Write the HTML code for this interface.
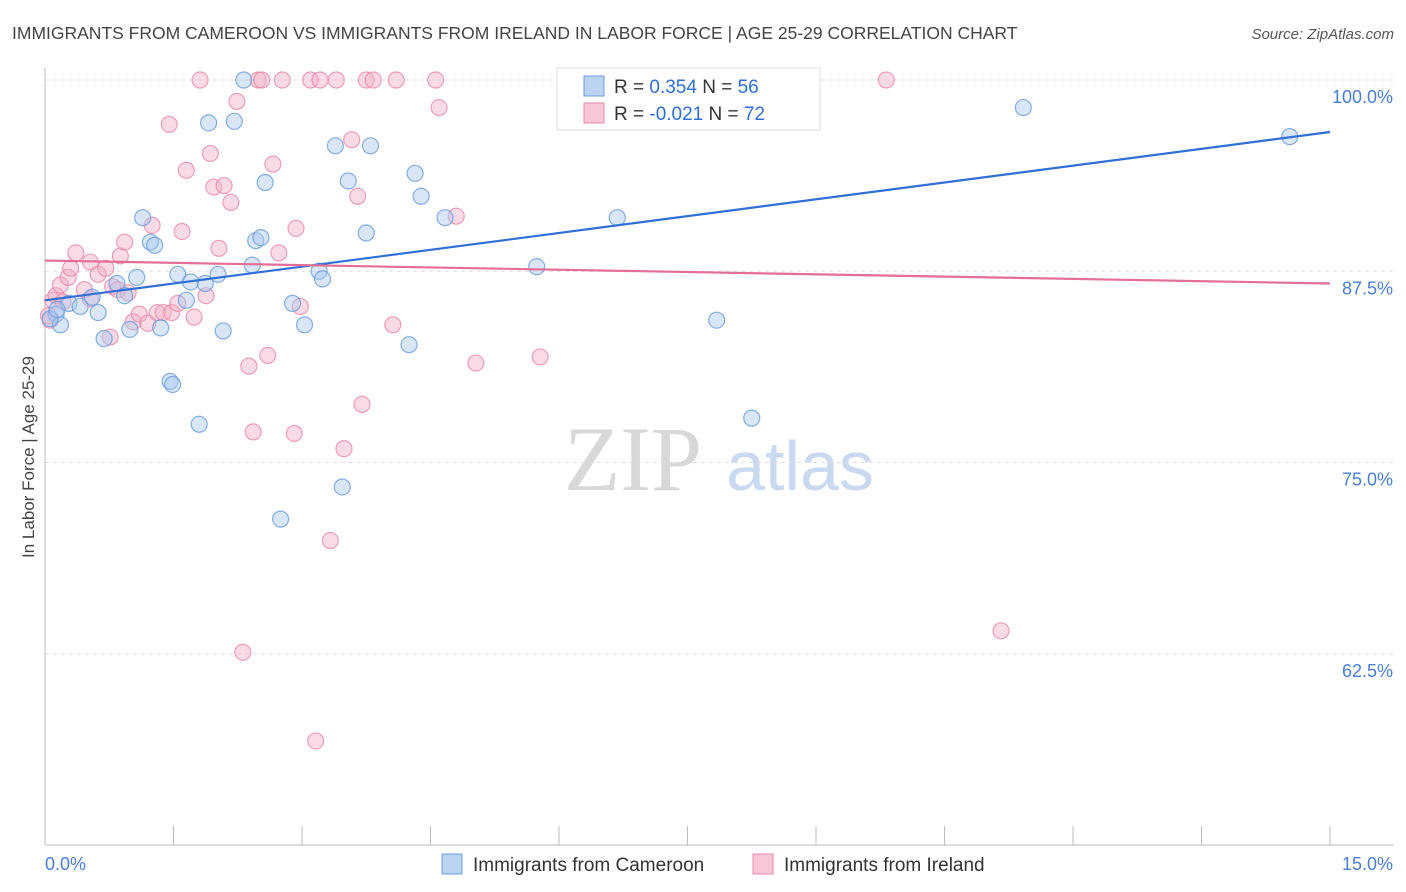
<!DOCTYPE html>
<html><head><meta charset="utf-8">
<style>
body{margin:0;background:#fff;font-family:"Liberation Sans",sans-serif;}
svg{display:block}
</style></head>
<body>
<svg id="chart" width="1406" height="892" xmlns="http://www.w3.org/2000/svg" font-family="Liberation Sans, sans-serif">
<text x="12" y="39" font-size="17.5" fill="#444">IMMIGRANTS FROM CAMEROON VS IMMIGRANTS FROM IRELAND IN LABOR FORCE | AGE 25-29 CORRELATION CHART</text>
<text x="1394" y="39" font-size="15" fill="#555" text-anchor="end" font-style="italic">Source: ZipAtlas.com</text>
<text transform="translate(34,457) rotate(-90)" font-size="17" fill="#444" text-anchor="middle">In Labor Force | Age 25-29</text>
<g>
<text x="633" y="490" font-size="92" fill="#d8d8d8" font-family="Liberation Serif, serif" text-anchor="middle">ZIP</text>
<text x="800" y="490" font-size="70" fill="#c9d9ef" text-anchor="middle">atlas</text>
</g>
<g id="grid"></g>
<g id="axes"></g>
<g id="pts"></g>
<g id="lines"></g>
<g>
<rect x="557" y="68" width="263" height="62" fill="#fff" stroke="#ddd"/>
<rect x="584" y="76" width="20" height="20" fill="#bcd4f4" stroke="#6a9be0"/>
<rect x="584" y="103" width="20" height="20" fill="#f8c6d5" stroke="#e88aa8"/>
<text x="614" y="93" font-size="19" fill="#333">R = <tspan fill="#2f6fd6"> 0.354</tspan>   N = <tspan fill="#2f6fd6">56</tspan></text>
<text x="614" y="120" font-size="19" fill="#333">R = <tspan fill="#2f6fd6">-0.021</tspan>   N = <tspan fill="#2f6fd6">72</tspan></text>
</g>
<g>
<rect x="442" y="854" width="20" height="20" fill="#bcd4f4" stroke="#6a9be0"/>
<text x="473" y="871" font-size="19" fill="#333">Immigrants from Cameroon</text>
<rect x="753" y="854" width="20" height="20" fill="#f8c6d5" stroke="#e88aa8"/>
<text x="784" y="871" font-size="19" fill="#333">Immigrants from Ireland</text>
</g>
</svg>
<script>
const yTicks=[100,87.5,75,62.5];
const yTickLabels=["100.0%","87.5%","75.0%","62.5%"];
const xTicks=[0,1.5,3,4.5,6,7.5,9,10.5,12,13.5,15];
const xEndLabels=["0.0%","15.0%"];
const cameroonX=[0.13,0.18,0.28,0.41,0.55,0.62,0.69,0.84,0.93,0.99,1.07,1.14,1.23,1.28,1.35,1.46,1.49,1.55,1.65,1.70,1.80,1.87,1.91,2.02,2.08,2.21,2.32,2.42,2.46,2.52,2.57,2.75,2.89,3.03,3.20,3.24,3.39,3.47,3.54,3.75,3.80,4.25,4.32,4.39,4.67,5.74,6.68,7.84,8.25,8.94,11.42,14.53,0.06,0.14];
const cameroonY=[84.7,84.0,85.4,85.2,85.8,84.8,83.1,86.7,85.9,83.7,87.1,91.0,89.4,89.2,83.8,80.3,80.1,87.3,85.6,86.8,77.5,86.7,97.2,87.3,83.6,97.3,100,87.9,89.5,89.7,93.3,71.3,85.4,84.0,87.5,87.0,95.7,73.4,93.4,90.0,95.7,82.7,93.9,92.4,91.0,87.8,91.0,84.3,77.9,100,98.2,96.3,84.4,85.0];
const irelandX=[0.06,0.09,0.13,0.18,0.21,0.27,0.30,0.36,0.46,0.53,0.62,0.71,0.76,0.79,0.85,0.88,0.93,0.97,1.03,1.10,1.20,1.25,1.31,1.38,1.45,1.48,1.55,1.65,1.60,1.74,1.81,1.88,1.93,1.97,2.03,2.09,2.17,2.24,2.31,2.38,2.43,2.49,2.53,2.60,2.66,2.73,2.77,2.91,2.93,2.98,3.10,3.16,3.21,3.33,3.40,3.49,3.58,3.65,3.70,3.75,3.83,4.06,4.10,4.56,4.60,4.80,5.03,5.78,9.82,11.16,0.04,0.53];
const irelandY=[84.3,85.6,85.9,86.6,85.5,87.1,87.7,88.7,86.3,88.1,87.3,87.7,83.2,86.5,86.3,88.5,89.4,86.1,84.2,84.7,84.1,90.5,84.8,84.8,97.1,84.8,85.4,94.1,90.1,84.5,100,85.9,95.2,93.0,89.0,93.1,92.0,98.6,62.6,81.3,77.0,100,100,82.0,94.5,88.7,100,76.9,90.3,85.2,100,56.8,100,69.9,100,75.9,96.1,92.4,78.8,100,100,84.0,100,100,98.2,91.1,81.5,81.9,100,64.0,84.6,85.7];
const trendX=[0,15];
const cameroonTrend=[85.6,96.6];
const irelandTrend=[88.2,86.7];

const NS="http://www.w3.org/2000/svg";
const X0=45,X1=1330,Y100=80,PX_PER_PCT=15.3;
const sx=v=>X0+(v/15)*(X1-X0);
const sy=v=>Y100+(100-v)*PX_PER_PCT;
function mk(tag,attrs,parent){const e=document.createElementNS(NS,tag);for(const k in attrs)e.setAttribute(k,attrs[k]);parent.appendChild(e);return e;}
const grid=document.getElementById('grid'),axes=document.getElementById('axes'),pts=document.getElementById('pts'),lines=document.getElementById('lines');
yTicks.forEach((t,i)=>{
  const l=mk('line',{x1:X0,x2:1394,y1:sy(t),y2:sy(t),stroke:'#ddd','stroke-dasharray':'4,4'},grid);
  
  
  const tx=mk('text',{x:1393,y:sy(t)+23,'font-size':18,fill:'#4a7fd8','text-anchor':'end'},axes);
  tx.textContent=yTickLabels[i];
  
  
});
const ya=mk('line',{x1:X0,x2:X0,y1:68,y2:845,stroke:'#bbb'},axes);


const xa=mk('line',{x1:X0,x2:1394,y1:845,y2:845,stroke:'#bbb'},axes);


xTicks.forEach(t=>{
  const l=mk('line',{x1:sx(t),x2:sx(t),y1:826,y2:845,stroke:'#bbb'},axes);
  
  
});
const xl0=mk('text',{x:45,y:870,'font-size':18,fill:'#4a7fd8'},axes);
xl0.textContent=xEndLabels[0];


const xl1=mk('text',{x:1393,y:870,'font-size':18,fill:'#4a7fd8','text-anchor':'end'},axes);
xl1.textContent=xEndLabels[1];


function series(xs,ys,fill,stroke,name){
  xs.forEach((x,i)=>{
    const c=mk('circle',{cx:sx(x),cy:sy(ys[i]),r:8,fill:fill,'fill-opacity':0.45,stroke:stroke,'stroke-width':1.2,'stroke-opacity':0.8},pts);
    
    
  });
}
series(irelandX,irelandY,'#f5b0c5','#e88aa8','ireland-point');
series(cameroonX,cameroonY,'#a9c8f0','#6a9be0','cameroon-point');
const bl=mk('line',{x1:sx(trendX[0]),x2:sx(trendX[1]),y1:sy(cameroonTrend[0]),y2:sy(cameroonTrend[1]),stroke:'#2f6fd6','stroke-width':2.2},lines);


const pl=mk('line',{x1:sx(trendX[0]),x2:sx(trendX[1]),y1:sy(irelandTrend[0]),y2:sy(irelandTrend[1]),stroke:'#e46e96','stroke-width':2.2},lines);


</script>
</body></html>
